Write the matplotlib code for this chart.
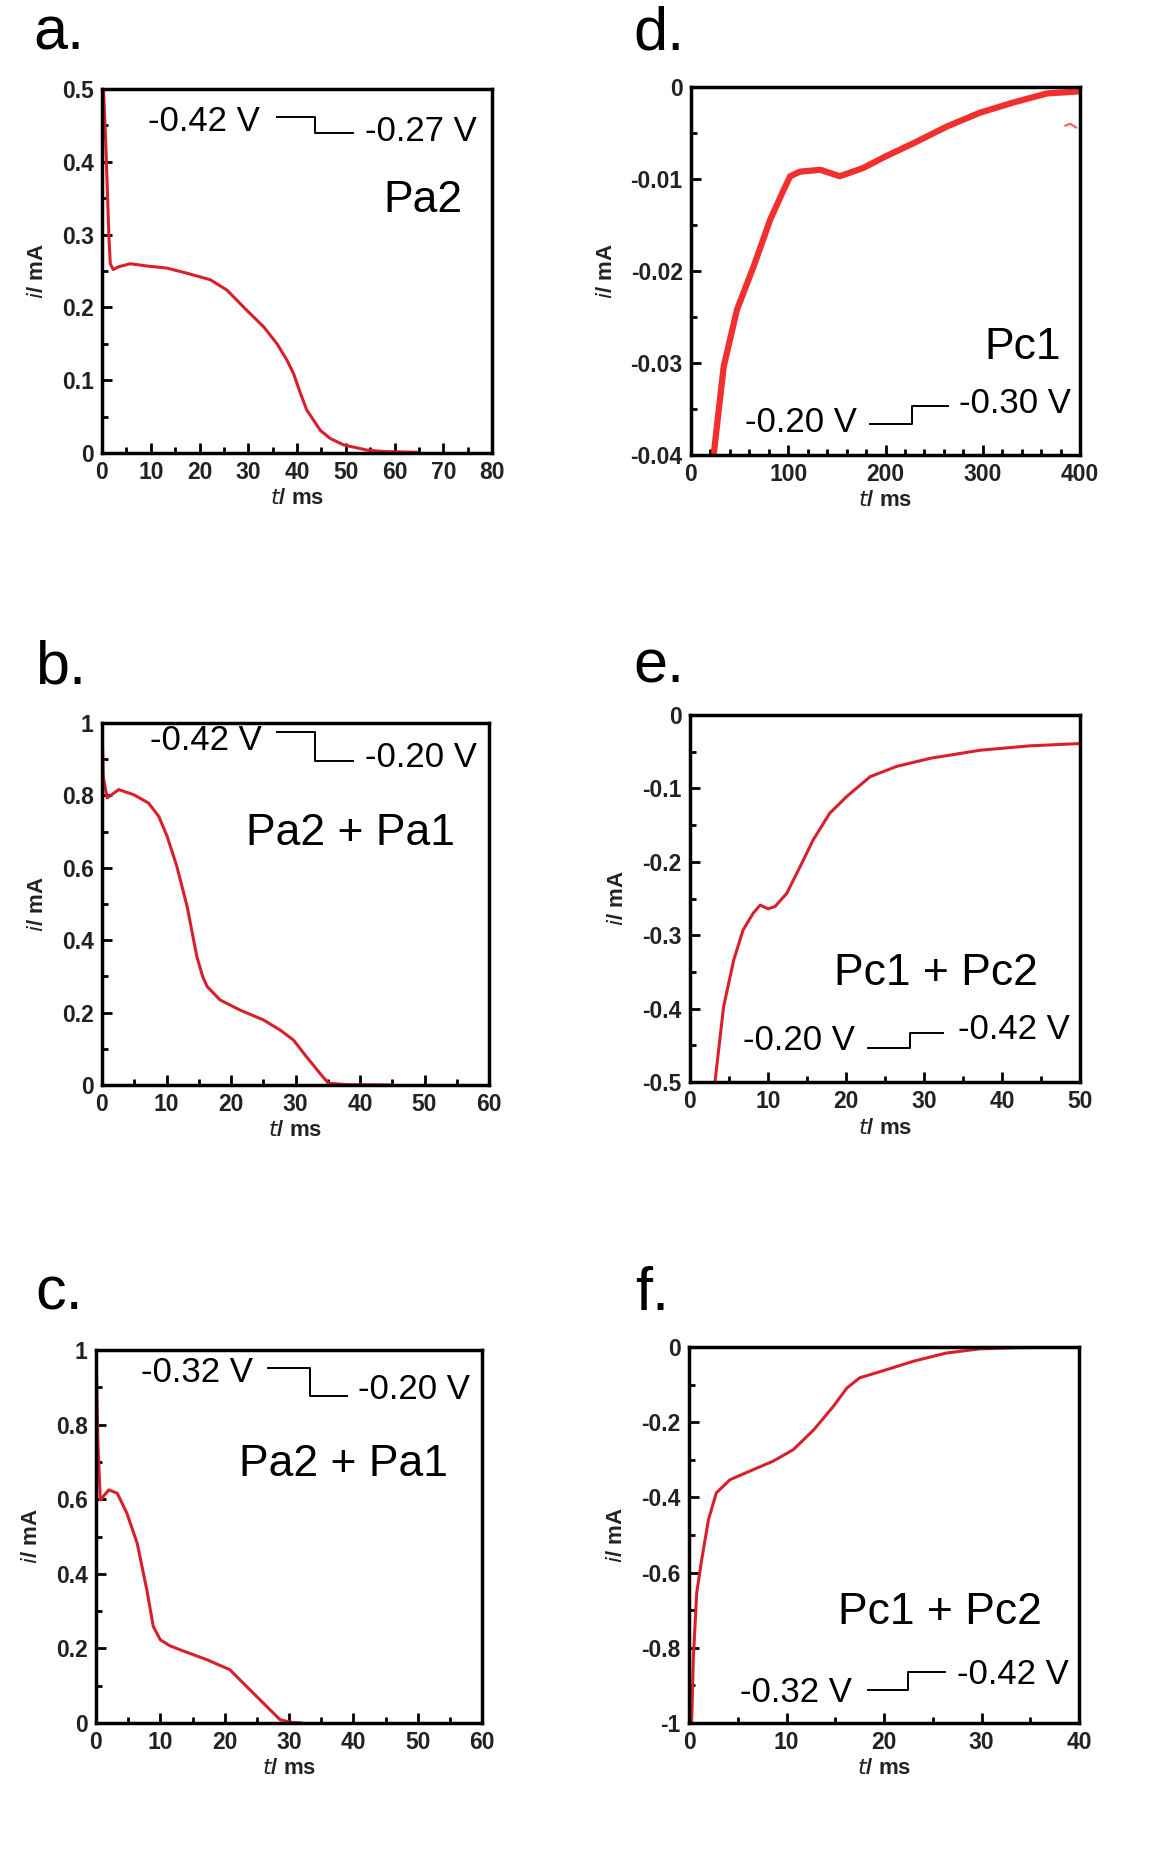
import matplotlib
matplotlib.use('Agg')
import matplotlib.pyplot as plt
from matplotlib.ticker import MultipleLocator

plt.rcParams['font.family'] = ['Liberation Sans', 'DejaVu Sans']

# a. Pa2
a_t = [0, 0.3, 0.8, 1.4, 1.7, 2.3, 3.5, 5.8, 9, 13.3, 17.4, 22.2, 25.6, 29.7, 33.2, 35.9, 37.9, 39.3, 40.7, 42, 43.4, 44.8, 46.8, 49.6, 54.4, 58, 64.6]
a_i = [0.5, 0.5, 0.42, 0.30, 0.26, 0.252, 0.256, 0.26, 0.257, 0.254, 0.247, 0.238, 0.224, 0.196, 0.173, 0.150, 0.128, 0.109, 0.082, 0.059, 0.045, 0.031, 0.020, 0.011, 0.004, 0.002, 0.001]
# b. Pa2 + Pa1
b_t = [0, 0.2, 0.8, 2.6, 4.9, 7.2, 8.8, 10.1, 11.6, 13.2, 14.7, 15.6, 16.3, 18.3, 21.4, 25, 27.6, 29.7, 31.7, 33.8, 35.1, 38, 45]
b_i = [1.0, 0.85, 0.793, 0.816, 0.802, 0.779, 0.742, 0.687, 0.604, 0.493, 0.355, 0.300, 0.272, 0.235, 0.207, 0.18, 0.152, 0.124, 0.078, 0.032, 0.005, 0.001, 0.0]
# c. Pa2 + Pa1
c_t = [0, 0.3, 0.67, 2, 3.3, 4.8, 6.4, 7.9, 8.9, 10, 11.5, 13.1, 17.2, 20.8, 23.4, 26.5, 28.6, 30.2, 32]
c_i = [1.0, 0.75, 0.598, 0.625, 0.616, 0.5625, 0.482, 0.357, 0.259, 0.223, 0.207, 0.196, 0.170, 0.143, 0.098, 0.045, 0.009, 0.002, 0.0]
# d. Pc1
d_t = [23.3, 33.6, 47.3, 64.4, 81.5, 95.2, 102, 112, 133, 153, 177, 201, 229, 263, 297, 331, 366, 396]
d_i = [-0.04, -0.0304, -0.0242, -0.0195, -0.0144, -0.0112, -0.0097, -0.0092, -0.009, -0.0097, -0.0088, -0.0075, -0.0061, -0.0043, -0.0028, -0.0017, -0.0007, -0.0005]
d_stray_t = [385, 390, 396]
d_stray_i = [-0.0042, -0.0040, -0.0044]
# e. Pc1 + Pc2
e_t = [3.2, 4.3, 5.6, 6.8, 8.1, 9, 10, 10.9, 12.4, 14.1, 15.8, 17.9, 20.1, 23.1, 26.5, 30.8, 37.2, 43.6, 49.8]
e_i = [-0.5, -0.398, -0.334, -0.293, -0.270, -0.259, -0.264, -0.261, -0.243, -0.207, -0.170, -0.134, -0.111, -0.084, -0.070, -0.059, -0.048, -0.042, -0.039]
# f. Pc1 + Pc2
f_t = [0.27, 0.44, 0.79, 1.3, 2, 2.8, 4.2, 6.6, 8.6, 10.7, 12.8, 14.8, 16.2, 17.5, 20.3, 23, 26.4, 29.8, 33.3, 40]
f_i = [-1, -0.83, -0.654, -0.566, -0.459, -0.388, -0.353, -0.326, -0.304, -0.273, -0.22, -0.158, -0.109, -0.082, -0.060, -0.038, -0.016, -0.005, -0.002, 0]

letters = ['a.', 'b.', 'c.', 'd.', 'e.', 'f.']
names = ['Pa2', 'Pa2 + Pa1', 'Pa2 + Pa1', 'Pc1', 'Pc1 + Pc2', 'Pc1 + Pc2']
v_start = ['-0.42 V', '-0.42 V', '-0.32 V', '-0.20 V', '-0.20 V', '-0.32 V']
v_end = ['-0.27 V', '-0.20 V', '-0.20 V', '-0.30 V', '-0.42 V', '-0.42 V']

W, H = 1168, 1863
fig = plt.figure(figsize=(W / 100, H / 100), dpi=100)


def make_axes(l, t, r, b):
    return fig.add_axes([l / W, 1 - b / H, (r - l) / W, (b - t) / H])


def fmt(v, p):
    return '%g' % round(v, 4)


def style(ax, xlim, xmaj, xmin, ylim, ymaj, ymin):
    ax.set_xlim(*xlim)
    ax.set_ylim(*ylim)
    ax.xaxis.set_major_locator(MultipleLocator(xmaj))
    ax.xaxis.set_minor_locator(MultipleLocator(xmin))
    ax.yaxis.set_major_locator(MultipleLocator(ymaj))
    ax.yaxis.set_minor_locator(MultipleLocator(ymin))
    ax.yaxis.set_major_formatter(plt.FuncFormatter(fmt))
    ax.xaxis.set_major_formatter(plt.FuncFormatter(fmt))
    ax.tick_params(which='both', direction='in', top=False, right=False, width=2)
    ax.tick_params(which='major', length=7, labelsize=16.5, pad=6)
    ax.tick_params(which='minor', length=4)
    for lab in ax.get_xticklabels() + ax.get_yticklabels():
        lab.set_fontweight('bold')
        lab.set_color('#222222')
    for s in ax.spines.values():
        s.set_linewidth(2.5)
    ax.set_xlabel('$\\mathbf{\\it{t}}$/ ms', fontsize=16, fontweight='bold', labelpad=3, color='#222222')
    ax.set_ylabel('$\\mathbf{\\it{i}}$/ mA', fontsize=16, fontweight='bold', labelpad=10, color='#222222')


def step(ax, x0, xm, x1, y0, y1, tx0, ty0, tx1, ty1, s0, s1):
    ax.plot([x0, xm, xm, x1], [y0, y0, y1, y1], color='black', lw=1.4,
            transform=ax.transAxes, clip_on=False)
    ax.text(tx0, ty0, s0, transform=ax.transAxes, fontsize=25, va='center', ha='left')
    ax.text(tx1, ty1, s1, transform=ax.transAxes, fontsize=25, va='center', ha='left')


red = '#d8202c'
kw = dict(color=red, lw=2.2, solid_joinstyle='round', solid_capstyle='round')

# a
ax = make_axes(102, 89, 492, 453)
ax.plot(a_t, a_i, **kw)
style(ax, (0, 80), 10, 5, (0, 0.5), 0.1, 0.05)
step(ax, 0.449, 0.546, 0.644, 0.923, 0.879, 0.118, 0.912, 0.675, 0.882, v_start[0], v_end[0])
ax.text(0.823, 0.695, names[0], transform=ax.transAxes, fontsize=32, ha='center', va='center')

# b
ax = make_axes(102, 723, 489, 1085)
ax.plot(b_t, b_i, **kw)
style(ax, (0, 60), 10, 5, (0, 1), 0.2, 0.1)
step(ax, 0.452, 0.550, 0.649, 0.975, 0.895, 0.124, 0.953, 0.680, 0.905, v_start[1], v_end[1])
ax.text(0.643, 0.696, names[1], transform=ax.transAxes, fontsize=32, ha='center', va='center')

# c
ax = make_axes(96, 1350, 482, 1723)
ax.plot(c_t, c_i, **kw)
style(ax, (0, 60), 10, 5, (0, 1), 0.2, 0.1)
step(ax, 0.446, 0.554, 0.650, 0.952, 0.877, 0.117, 0.941, 0.680, 0.893, v_start[2], v_end[2])
ax.text(0.64, 0.692, names[2], transform=ax.transAxes, fontsize=32, ha='center', va='center')

# d
ax = make_axes(691, 87, 1080, 455)
ax.plot(d_t, d_i, color='#f01818', lw=4.5, alpha=0.9, solid_joinstyle='round')
ax.plot(d_stray_t, d_stray_i, color='#f01818', lw=1.5, alpha=0.7)
style(ax, (0, 400), 100, 20, (-0.04, 0), 0.01, 0.005)
step(ax, 0.460, 0.568, 0.661, 0.084, 0.133, 0.140, 0.087, 0.688, 0.141, v_start[3], v_end[3])
ax.text(0.853, 0.293, names[3], transform=ax.transAxes, fontsize=32, ha='center', va='center')

# e
ax = make_axes(690, 715, 1080, 1082)
ax.plot(e_t, e_i, **kw)
style(ax, (0, 50), 10, 5, (-0.5, 0), 0.1, 0.05)
step(ax, 0.456, 0.564, 0.649, 0.093, 0.134, 0.135, 0.114, 0.686, 0.142, v_start[4], v_end[4])
ax.text(0.631, 0.297, names[4], transform=ax.transAxes, fontsize=32, ha='center', va='center')

# f
ax = make_axes(689, 1347, 1079, 1723)
ax.plot(f_t, f_i, **kw)
style(ax, (0, 40), 10, 5, (-1, 0), 0.2, 0.1)
step(ax, 0.459, 0.562, 0.656, 0.088, 0.136, 0.132, 0.082, 0.686, 0.128, v_start[5], v_end[5])
ax.text(0.644, 0.295, names[5], transform=ax.transAxes, fontsize=32, ha='center', va='center')

# panel letters
pos = [(33, 50), (35, 683), (35, 1310), (633, 50), (633, 682), (635, 1310)]
for lab, (px, py) in zip(letters, pos):
    fig.text(px / W, 1 - py / H, lab, fontsize=44, ha='left', va='baseline')

fig.savefig('out.png', dpi=100)
